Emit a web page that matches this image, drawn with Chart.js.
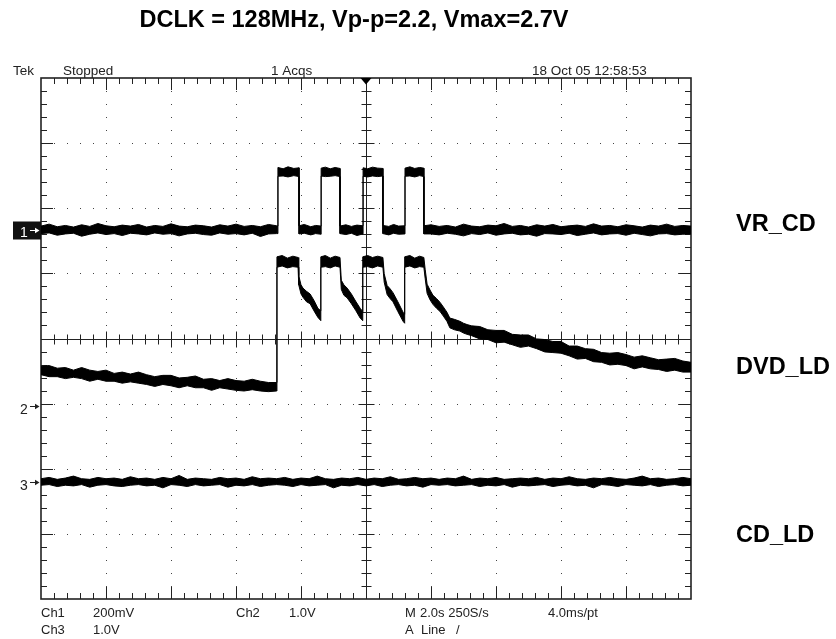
<!DOCTYPE html>
<html><head><meta charset="utf-8">
<script src="https://cdn.jsdelivr.net/npm/chart.js@4.4.1/dist/chart.umd.min.js"></script>
<style>html,body{margin:0;padding:0;background:#fff}canvas{display:block}</style>
</head><body>
<canvas id="c" width="836" height="639"></canvas>
<script>
const titleText = 'DCLK = 128MHz, Vp-p=2.2, Vmax=2.7V';
const channelNames = ['VR_CD', 'DVD_LD', 'CD_LD'];

// VR_CD (Ch1): time in s, noise band max/min in mV above its ground
const vrTime = [0,0.25,0.5,0.75,1,1.25,1.5,1.75,2,2.25,2.5,2.75,3,3.25,3.5,3.75,4,4.25,4.5,4.75,5,5.25,5.5,5.75,6,6.25,6.5,6.75,7,7.25,
  7.29, 7.29,7.45,7.6,7.78,7.94, 7.94,8.1,8.3,8.45,8.62, 8.62,8.75,8.9,9.05,9.20, 9.20,9.38,9.55,9.72,9.91, 9.91,10.05,10.2,10.36,10.52,
  10.52,10.7,10.85,11.0,11.20, 11.20,11.35,11.5,11.65,11.78, 11.78,
  12,12.25,12.5,12.75,13,13.25,13.5,13.75,14,14.25,14.5,14.75,15,15.25,15.5,15.75,16,16.25,16.5,16.75,17,17.25,17.5,17.75,18,18.25,18.5,18.75,19,19.25,19.5,19.75,20];
const vrMax = [12,18,10,14,9,16,11,20,13,10, 15,12,17,9,14,11,19,12,10,15, 13,9,16,12,18,11,14,10,17,13,
  12, 192,188,194,189,191, 13,17,10,14,12, 190,193,188,192,189, 12,16,11,15,13, 191,188,193,190,189,
  14,11,17,12,13, 190,194,189,192,190, 13,
  16,11,14,9,18,12,10,15,13,20, 11,14,9,16,12,17,10,13,15,11, 19,12,14,10,16,13,9,15,12,18, 11,14,12];
const vrMin = [-11,-9,-16,-12,-10,-19,-13,-9,-14,-11, -17,-10,-12,-15,-9,-13,-11,-18,-12,-10, -14,-16,-9,-13,-11,-15,-10,-20,-12,-11,
  -11, 165,166,163,167,164, -12,-10,-15,-11,-13, 166,164,165,167,164, -11,-14,-10,-17,-12, 165,163,166,164,166,
  -11,-15,-10,-13,-12, 165,166,163,167,164, -12,
  -12,-15,-10,-13,-18,-11,-14,-9,-16,-12, -10,-15,-13,-19,-11,-12,-14,-10,-17,-13, -9,-15,-12,-11,-16,-10,-14,-18,-12,-11, -15,-13,-12];

// DVD_LD (Ch2): time in s, noise band max/min in V above its ground
const dvdTime = [0,0.25,0.5,0.75,1,1.25,1.5,1.75,2,2.25,2.5,2.75,3,3.25,3.5,3.75,4,4.25,4.5,4.75,5,5.25,5.5,5.75,6,6.25,6.5,6.75,7,7.25,
  7.26,7.42,7.58,7.75,7.91, 7.93,8.0,8.06,8.17,8.28,8.40,8.52,8.61,
  8.61,8.75,8.9,9.05,9.20, 9.24,9.32,9.42,9.55,9.68,9.82,9.90,
  9.90,10.05,10.2,10.36,10.52, 10.56,10.65,10.74,10.83,10.98,11.14,11.19,
  11.19,11.35,11.5,11.65,11.78, 11.82,11.88,11.97,12.06,12.17,12.28,12.38,12.49,12.58,12.72,12.89,13.0,13.11,
  13.25,13.5,13.75,14,14.25,14.5,14.75,15,15.25,15.5,15.75,16,16.25,16.5,16.75,17,17.25,17.5,17.75,18,18.25,18.5,18.75,19,19.25,19.5,19.75,20];
const dvdMax = [0.61,0.62,0.58,0.59,0.55,0.59,0.55,0.53,0.55,0.50, 0.52,0.49,0.52,0.48,0.45,0.47,0.47,0.43,0.44,0.46, 0.41,0.42,0.39,0.42,0.39,0.38,0.41,0.38,0.36,0.36,
  2.29,2.31,2.27,2.30,2.28, 2.00,1.86,1.81,1.76,1.72,1.62,1.50,1.46,
  2.29,2.31,2.27,2.30,2.28, 1.93,1.86,1.81,1.72,1.61,1.50,1.45,
  2.29,2.31,2.28,2.30,2.28, 2.03,1.85,1.80,1.74,1.60,1.44,1.41,
  2.29,2.31,2.27,2.30,2.28, 2.10,1.87,1.78,1.70,1.65,1.59,1.52,1.44,1.35,1.33,1.30,1.27,1.25,
  1.23,1.22,1.17,1.16,1.16,1.10,1.09,1.09,1.03,1.02, 0.99,0.99,0.92,0.92,0.88,0.87,0.82,0.81,0.82,0.79, 0.75,0.77,0.74,0.71,0.72,0.73,0.69,0.67];
const dvdMin = [0.48,0.45,0.45,0.42,0.44,0.42,0.38,0.41,0.38,0.38, 0.35,0.37,0.35,0.33,0.30,0.33,0.31,0.28,0.31,0.28, 0.28,0.24,0.28,0.26,0.24,0.23,0.25,0.23,0.22,0.23,
  2.13,2.15,2.12,2.14,2.13, 1.86,1.72,1.67,1.60,1.57,1.46,1.36,1.31,
  2.13,2.14,2.12,2.15,2.13, 1.79,1.70,1.66,1.57,1.47,1.35,1.31,
  2.13,2.14,2.12,2.15,2.13, 1.90,1.71,1.65,1.60,1.45,1.30,1.27,
  2.13,2.15,2.12,2.14,2.13, 1.96,1.73,1.63,1.56,1.50,1.45,1.38,1.30,1.20,1.17,1.15,1.12,1.10,
  1.08,1.03,1.02,0.97,0.98,0.94,0.90,0.92,0.88,0.83, 0.82,0.81,0.77,0.72,0.73,0.68,0.67,0.63,0.64,0.62, 0.57,0.60,0.57,0.56,0.53,0.55,0.52,0.52];

// CD_LD (Ch3): time in s, noise band max/min in V above its ground
const cdTime = [0,0.25,0.5,0.75,1,1.25,1.5,1.75,2,2.25,2.5,2.75,3,3.25,3.5,3.75,4,4.25,4.5,4.75,5,5.25,5.5,5.75,6,6.25,6.5,6.75,7,7.25,7.5,7.75,8,8.25,8.5,8.75,9,9.25,9.5,9.75,
  10,10.25,10.5,10.75,11,11.25,11.5,11.75,12,12.25,12.5,12.75,13,13.25,13.5,13.75,14,14.25,14.5,14.75,15,15.25,15.5,15.75,16,16.25,16.5,16.75,17,17.25,17.5,17.75,18,18.25,18.5,18.75,19,19.25,19.5,19.75,20];
const cdMax = [0.05,0.07,0.04,0.06,0.09,0.05,0.04,0.07,0.05,0.06, 0.04,0.08,0.05,0.06,0.04,0.07,0.05,0.10,0.04,0.06,
  0.05,0.04,0.07,0.05,0.06,0.04,0.08,0.05,0.06,0.05, 0.07,0.04,0.06,0.05,0.09,0.05,0.04,0.06,0.05,0.07,
  0.04,0.06,0.05,0.08,0.04,0.05,0.07,0.05,0.06,0.04, 0.06,0.05,0.09,0.04,0.06,0.05,0.07,0.04,0.05,0.06,
  0.05,0.07,0.04,0.06,0.05,0.08,0.05,0.04,0.06,0.05, 0.07,0.05,0.04,0.06,0.09,0.05,0.06,0.04,0.05,0.07, 0.05];
const cdMin = [-0.05,-0.04,-0.07,-0.05,-0.06,-0.04,-0.08,-0.05,-0.04,-0.06, -0.07,-0.05,-0.04,-0.06,-0.05,-0.09,-0.04,-0.05,-0.07,-0.04,
  -0.06,-0.05,-0.04,-0.08,-0.05,-0.06,-0.04,-0.07,-0.05,-0.04, -0.05,-0.07,-0.04,-0.06,-0.05,-0.04,-0.09,-0.05,-0.06,-0.04,
  -0.06,-0.04,-0.07,-0.05,-0.04,-0.06,-0.05,-0.08,-0.04,-0.05, -0.04,-0.06,-0.05,-0.04,-0.07,-0.05,-0.06,-0.04,-0.08,-0.05,
  -0.06,-0.05,-0.04,-0.07,-0.05,-0.04,-0.06,-0.05,-0.09,-0.04, -0.05,-0.07,-0.04,-0.05,-0.06,-0.04,-0.07,-0.05,-0.04,-0.06, -0.05];

// scope readouts
const topReadouts = ['Tek', 'Stopped', '1 Acqs', '18 Oct 05 12:58:53'];
const bottomRow1 = ['Ch1', '200mV', 'Ch2', '1.0V', 'M', '2.0s 250S/s', '4.0ms/pt'];
const bottomRow2 = ['Ch3', '1.0V', 'A', 'Line', '/'];

// ---------- display settings (vertical scale / ground offset in divisions) ----------
const chSettings = [
  {perDiv: 200, groundDiv: 1.666, marker: '1', boxed: true},
  {perDiv: 1.0, groundDiv: -1.036, marker: '2', boxed: false},
  {perDiv: 1.0, groundDiv: -2.203, marker: '3', boxed: false}
];
const secPerDiv = 2, divsX = 10, divsY = 8;

function toPts(times, vals, s) {
  return times.map((t, i) => ({x: t, y: s.groundDiv + vals[i] / s.perDiv}));
}
const series = [[vrTime, vrMax, vrMin], [dvdTime, dvdMax, dvdMin], [cdTime, cdMax, cdMin]];
const datasets = [];
series.forEach((sr, k) => {
  const s = chSettings[k];
  datasets.push({label: channelNames[k] + ' max', data: toPts(sr[0], sr[1], s), borderColor: '#000', borderWidth: 1, pointRadius: 0, fill: false, tension: 0});
  datasets.push({label: channelNames[k] + ' min', data: toPts(sr[0], sr[2], s), borderColor: '#000', borderWidth: 1, pointRadius: 0, fill: '-1', backgroundColor: '#000', tension: 0});
});

const FONT = '"Liberation Sans", Arial, sans-serif';

const scope = {
  id: 'scope',
  beforeDatasetsDraw(chart) {
    const {ctx, chartArea: a, scales: {x, y}} = chart;
    const X = v => x.getPixelForValue(v), Y = v => y.getPixelForValue(v);
    const cx = Math.round(X(divsX / 2 * secPerDiv)) + 0.5, cy = Math.round(Y(0)) + 0.5;
    ctx.save();
    ctx.fillStyle = '#444';
    for (let i = 1; i < divsX; i++) {
      if (i === divsX / 2) continue;
      const px = Math.round(X(i * secPerDiv));
      for (let j = 1; j < divsY * 5; j++) ctx.fillRect(px, Math.round(Y(-divsY / 2 + j * 0.2)), 1, 1);
    }
    for (let k = -divsY / 2 + 1; k < divsY / 2; k++) {
      if (k === 0) continue;
      const py = Math.round(Y(k));
      for (let j = 1; j < divsX * 5; j++) ctx.fillRect(Math.round(X(j * 0.2 * secPerDiv)), py, 1, 1);
    }
    ctx.strokeStyle = '#222';
    ctx.lineWidth = 1;
    ctx.beginPath();
    ctx.moveTo(a.left, cy); ctx.lineTo(a.right, cy);
    ctx.moveTo(cx, a.top); ctx.lineTo(cx, a.bottom);
    for (let j = 1; j < divsX * 5; j++) {
      const px = Math.round(X(j * 0.2 * secPerDiv)) + 0.5;
      const major = j % 5 === 0;
      const len = major ? 12 : 6, c = major ? 8 : 5;
      ctx.moveTo(px, a.top); ctx.lineTo(px, a.top + len);
      ctx.moveTo(px, a.bottom); ctx.lineTo(px, a.bottom - len);
      ctx.moveTo(px, cy - c); ctx.lineTo(px, cy + c);
    }
    for (let j = 1; j < divsY * 5; j++) {
      const py = Math.round(Y(-divsY / 2 + j * 0.2)) + 0.5;
      const major = j % 5 === 0;
      const len = major ? 12 : 6, c = major ? 8 : 5;
      ctx.moveTo(a.left, py); ctx.lineTo(a.left + len, py);
      ctx.moveTo(a.right, py); ctx.lineTo(a.right - len, py);
      ctx.moveTo(cx - c, py); ctx.lineTo(cx + c, py);
    }
    ctx.stroke();
    ctx.lineWidth = 1.6;
    ctx.strokeRect(a.left, a.top, a.right - a.left, a.bottom - a.top);
    ctx.restore();
  },
  afterDatasetsDraw(chart) {
    const {ctx, chartArea: a, scales: {x, y}} = chart;
    const cx = x.getPixelForValue(divsX / 2 * secPerDiv);
    ctx.save();
    ctx.fillStyle = '#000';
    ctx.beginPath();
    ctx.moveTo(cx - 5.5, a.top); ctx.lineTo(cx + 5.5, a.top); ctx.lineTo(cx, a.top + 6.5); ctx.closePath(); ctx.fill();
    chSettings.forEach(s => {
      const gy = Math.round(y.getPixelForValue(s.groundDiv)) + 0.5;
      let col = '#222';
      if (s.boxed) { ctx.fillStyle = '#111'; ctx.fillRect(13, gy - 9, 28, 18); col = '#fff'; }
      ctx.fillStyle = col; ctx.strokeStyle = col; ctx.lineWidth = 1;
      ctx.font = '14px ' + FONT; ctx.textAlign = 'left'; ctx.textBaseline = 'alphabetic';
      ctx.fillText(s.marker, 20, gy + (s.boxed ? 6 : 7.5));
      ctx.beginPath(); ctx.moveTo(30, gy); ctx.lineTo(36, gy); ctx.stroke();
      ctx.beginPath(); ctx.moveTo(39.5, gy); ctx.lineTo(35, gy - 2.8); ctx.lineTo(35, gy + 2.8); ctx.closePath(); ctx.fill();
    });
    ctx.restore();
  },
  afterDraw(chart) {
    const {ctx} = chart;
    ctx.save();
    ctx.textBaseline = 'alphabetic';
    ctx.fillStyle = '#000';
    ctx.font = 'bold 23.5px ' + FONT;
    ctx.textAlign = 'center';
    ctx.fillText(titleText, 354, 27);
    ctx.textAlign = 'left';
    ctx.fillText(channelNames[0], 736, 231);
    ctx.fillText(channelNames[1], 736, 373.5);
    ctx.fillText(channelNames[2], 736, 541.5);
    ctx.fillStyle = '#222';
    ctx.font = '13.5px ' + FONT;
    const tx = [13, 63, 271, 532];
    topReadouts.forEach((t, i) => ctx.fillText(t, tx[i], 75));
    ctx.font = '13px ' + FONT;
    const b1 = [41, 93, 236, 289, 405, 420, 548];
    bottomRow1.forEach((t, i) => ctx.fillText(t, b1[i], 617));
    const b2 = [41, 93, 405, 421, 456];
    bottomRow2.forEach((t, i) => ctx.fillText(t, b2[i], 633.5));
    ctx.restore();
  }
};

new Chart(document.getElementById('c'), {
  type: 'line',
  data: {datasets},
  options: {
    responsive: false, animation: false, devicePixelRatio: 1,
    layout: {padding: {left: 41, right: 145, top: 78, bottom: 40}},
    plugins: {legend: {display: false}, tooltip: {enabled: false}, title: {display: false}},
    scales: {
      x: {type: 'linear', min: 0, max: divsX * secPerDiv, display: false},
      y: {type: 'linear', min: -divsY / 2, max: divsY / 2, display: false}
    }
  },
  plugins: [scope]
});
</script>
</body></html>
